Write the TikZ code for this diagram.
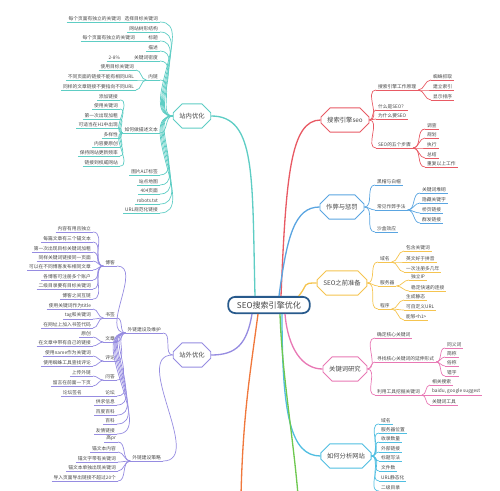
\documentclass[tikz,border=0pt]{standalone}
\usepackage{fontspec}
\setmainfont{Noto Sans CJK SC}
\usetikzlibrary{shapes.misc,calc}
\definecolor{rootc}{RGB}{40,90,140}
\definecolor{inc}{RGB}{94,205,196}
\definecolor{seoc}{RGB}{232,90,100}
\definecolor{cheatc}{RGB}{90,165,225}
\definecolor{prepc}{RGB}{245,196,80}
\definecolor{kwc}{RGB}{232,120,180}
\definecolor{anac}{RGB}{80,190,225}
\definecolor{outc}{RGB}{150,140,225}
\definecolor{orgc}{RGB}{240,120,60}
\definecolor{grnc}{RGB}{110,200,80}
\newcommand{\lffont}{\fontsize{2.7}{3.2}\selectfont}
\newcommand{\brfont}{\fontsize{3.6}{4.2}\selectfont}
\newcommand{\rtfont}{\fontsize{4.6}{5.4}\selectfont}

\begin{document}
\begin{tikzpicture}[x=0.02cm,y=-0.02cm,
  txt/.style={text=black!72},
  root/.style={draw=rootc,line width=1pt,fill=white,rounded corners=4pt,
               inner xsep=5pt,inner ysep=2.5pt,font=\rtfont,txt},
  br/.style={chamfered rectangle,chamfered rectangle xsep=1.5pt,draw=#1,fill=white,
             line width=.5pt,inner xsep=2pt,inner ysep=1.6pt,font=\brfont,txt},
  lf/.style={inner xsep=1pt,inner ysep=.6pt,font=\lffont,txt,
             append after command={(\tikzlastnode.south west) edge[draw=#1,line width=.4pt] (\tikzlastnode.south east)}},
  lr/.style={lf=#1,anchor=south west},
  ll/.style={lf=#1,anchor=south east},
  bline/.style={draw=#1,line width=.75pt},
  cline/.style={draw=#1,line width=.4pt},
]
\useasboundingbox (0,0) rectangle (500,490);

% centre
\node[root] (root) at (269,305) {SEO搜索引擎优化};
\coordinate (obot) at (241,495);
\coordinate (gbot) at (298,495);

% main nodes
\node[br=inc] (in) at (192,116) {站内优化};
\node[br=outc] (out) at (192,355) {站外优化};
\node[br=seoc] (seo) at (345,120) {搜索引擎seo};
\node[br=cheatc] (cheat) at (342,207) {作弊与惩罚};
\node[br=prepc] (prep) at (342,283) {SEO之前准备};
\node[br=kwc] (kw) at (345,369) {关键词研究};
\node[br=anac] (ana) at (346,456) {如何分析网站};

% main branches
\draw[bline=inc] ($(root.north)+(-14,0)$) .. controls +(-3,-120) and +(45,0) .. (in.east);
\draw[bline=seoc] ($(root.north)+(12,0)$) .. controls +(5,-120) and +(-30,0) .. (seo.west);
\draw[bline=cheatc] ($(root.north)+(10,0)$) .. controls +(8,-60) and +(-25,0) .. (cheat.west);
\draw[bline=prepc] ($(root.north east)+(-12,0)$) .. controls +(10,-12) and +(-15,0) .. (prep.west);
\draw[bline=kwc] ($(root.south)+(16,0)$) .. controls +(3,35) and +(-20,0) .. (kw.west);
\draw[bline=anac] ($(root.south)+(13,0)$) .. controls +(0,100) and +(-30,0) .. (ana.west);
\draw[bline=grnc] ($(root.south)+(11,0)$) .. controls +(2,60) and +(-5,-60) .. (gbot);
\draw[bline=outc] ($(root.south)+(-17,0)$) .. controls +(-5,30) and +(25,0) .. (out.east);
\draw[bline=orgc] ($(root.south)+(-11,0)$) .. controls +(-8,60) and +(2,-80) .. (obot);

% 搜索引擎seo
\foreach \n/\y/\t in {s1/90/搜索引擎工作原理,s2/110/什么是SEO？,s3/119/为什么要SEO,s4/148/SEO的五个步骤}
  {\node[lr=seoc] (\n) at (376,\y) {\t};
   \draw[cline=seoc] (seo.east) to[out=0,in=180] (\n.south west);}
\foreach \n/\y/\t in {s11/80/蜘蛛抓取,s12/90/建立索引,s13/100/显示排序}
  {\node[lr=seoc] (\n) at (431,\y) {\t};
   \draw[cline=seoc] (s1.south east) to[out=0,in=180] (\n.south west);}
\foreach \n/\y/\t in {s41/129/调查,s42/138/规划,s43/148/执行,s44/158/总结,s45/167/重复以上工作}
  {\node[lr=seoc] (\n) at (425,\y) {\t};
   \draw[cline=seoc] (s4.south east) to[out=0,in=180] (\n.south west);}

% 作弊与惩罚
\foreach \n/\y/\t in {c1/185/黑帽与白帽,c2/210/常见作弊手法,c3/232/沙盒效应}
  {\node[lr=cheatc] (\n) at (375,\y) {\t};
   \draw[cline=cheatc] (cheat.east) to[out=0,in=180] (\n.south west);}
\foreach \n/\y/\t in {c21/193/关键词堆砌,c22/203/隐藏关键字,c23/213/桥页链接,c24/223/群发链接}
  {\node[lr=cheatc] (\n) at (420,\y) {\t};
   \draw[cline=cheatc] (c2.south east) to[out=0,in=180] (\n.south west);}

% SEO之前准备
\foreach \n/\y/\t in {p1/262/域名,p2/286/服务器,p3/309/程序}
  {\node[lr=prepc] (\n) at (378,\y) {\t};
   \draw[cline=prepc] (prep.east) to[out=0,in=180] (\n.south west);}
\foreach \n/\y/\t in {p11/251/包含关键词,p12/262/英文好于拼音,p13/272/一次注册多几年}
  {\node[lr=prepc] (\n) at (404,\y) {\t};
   \draw[cline=prepc] (p1.south east) to[out=0,in=180] (\n.south west);}
\foreach \n/\y/\t in {p21/280/独立IP,p22/291/稳定快速的连接}
  {\node[lr=prepc] (\n) at (409,\y) {\t};
   \draw[cline=prepc] (p2.south east) to[out=0,in=180] (\n.south west);}
\foreach \n/\y/\t in {p31/300/生成静态,p32/310/可自定义URL,p33/320/能够<h1>}
  {\node[lr=prepc] (\n) at (404,\y) {\t};
   \draw[cline=prepc] (p3.south east) to[out=0,in=180] (\n.south west);}

% 关键词研究
\foreach \n/\y/\t in {k1/338/确定核心关键词,k2/362/寻找核心关键词的延伸形式,k3/395/利用工具挖掘关键词}
  {\node[lr=kwc] (\n) at (375,\y) {\t};
   \draw[cline=kwc] (kw.east) to[out=0,in=180] (\n.south west);}
\foreach \n/\y/\t in {k21/348/同义词,k22/357/简称,k23/366/俗称,k24/376/错字}
  {\node[lr=kwc] (\n) at (445,\y) {\t};
   \draw[cline=kwc] (k2.south east) to[out=0,in=180] (\n.south west);}
\foreach \n/\y/\t in {k31/385/相关搜索,k32/395/{baidu, google suggest},k33/405/关键词工具}
  {\node[lr=kwc] (\n) at (430,\y) {\t};
   \draw[cline=kwc] (k3.south east) to[out=0,in=180] (\n.south west);}

% 如何分析网站
\foreach \n/\y/\t in {a1/424/域名,a2/433/服务器位置,a3/442/收录数量,a4/452/外部链接,a5/461/标题写法,a6/471/文件数,a7/481/URL静态化,a8/491/二级目录}
  {\node[lr=anac] (\n) at (379,\y) {\t};
   \draw[cline=anac] (ana.east) to[out=0,in=180] (\n.south west);}

% 站内优化
\foreach \n/\y/\t in {i1/22/选择目标关键词,i2/32/网站树形结构,i3/41/标题,i4/51/描述,i5/61/关键词密度,i6/80/内链,i7/133/如何做描述文本,i8/175/图片ALT标签,i9/185/站点地图,i10/194/404页面,i12/204/robots.txt,i13/213/URL规范化链接}
  {\node[ll=inc] (\n) at (160,\y) {\t};
   \draw[cline=inc] (in.west) to[out=180,in=0] (\n.south east);}
\node[ll=inc] (i11) at (123,22) {每个页面有独立的关键词};
\draw[cline=inc] (i1.south west) -- (i11.south east);
\node[ll=inc] (i31) at (137,41) {每个页面有独立的关键词};
\draw[cline=inc] (i3.south west) -- (i31.south east);
\node[ll=inc] (i51) at (122,61) {2-8\%};
\draw[cline=inc] (i5.south west) -- (i51.south east);
\foreach \n/\y/\t in {i61/70/使用目标关键词,i62/80/不同页面的链接不能有相同URL,i63/90/同样的文章链接不要指向不同URL}
  {\node[ll=inc] (\n) at (136,\y) {\t};
   \draw[cline=inc] (i6.south west) to[out=180,in=0] (\n.south east);}
\foreach \n/\y/\t in {i71/100/添加链接,i72/109/使用关键词,i73/119/第一次出现加粗,i74/128/可适当在H1中出现,i75/138/多样性,i76/147/内容要原创,i77/156/保持网站更新频率,i78/166/链接到权威网站}
  {\node[ll=inc] (\n) at (120,\y) {\t};
   \draw[cline=inc] (i7.south west) to[out=180,in=0] (\n.south east);}

% 站外优化
\foreach \n/\y/\t in {o1/333/外链建设及维护,o2/461/外链建设策略}
  {\node[ll=outc] (\n) at (163,\y) {\t};
   \draw[cline=outc] (out.west) to[out=180,in=0] (\n.south east);}
\foreach \n/\y/\t in {o11/266/博客,o12/318/书签,o13/342/文章,o14/361/评论,o15/380/问答,o16/396/论坛,o17/405/供求信息,o18/415/百度百科,o19/424/百科,o1a/434/友情链接}
  {\node[ll=outc] (\n) at (117,\y) {\t};
   \draw[cline=outc] (o1.south west) to[out=180,in=0] (\n.south east);}
\foreach \n/\y/\t in {o111/232/内容有用且独立,o112/242/每篇文章有三个锚文本,o113/252/第一次出现目标关键词加粗,o114/261/同样关键词链接同一页面,o115/270/可以在不同博客发布相同文章,o116/280/各博客可注册多个账户,o117/289/二级目录要有目标关键词,o118/299/博客之间互链}
  {\node[ll=outc] (\n) at (93,\y) {\t};
   \draw[cline=outc] (o11.south west) to[out=180,in=0] (\n.south east);}
\foreach \n/\y/\t in {o121/309/使用关键词作为title,o122/319/tag和关键词,o123/328/在网址上加入书签代码}
  {\node[ll=outc] (\n) at (93,\y) {\t};
   \draw[cline=outc] (o12.south west) to[out=180,in=0] (\n.south east);}
\foreach \n/\y/\t in {o131/337/原创,o132/346/在文章中带有自己的链接}
  {\node[ll=outc] (\n) at (93,\y) {\t};
   \draw[cline=outc] (o13.south west) to[out=180,in=0] (\n.south east);}
\foreach \n/\y/\t in {o141/356/使用name作为关键词,o142/366/使用蜘蛛工具查找评论}
  {\node[ll=outc] (\n) at (93,\y) {\t};
   \draw[cline=outc] (o14.south west) to[out=180,in=0] (\n.south east);}
\foreach \n/\y/\t in {o151/376/上传外链,o152/386/留言在前面一下页}
  {\node[ll=outc] (\n) at (93,\y) {\t};
   \draw[cline=outc] (o15.south west) to[out=180,in=0] (\n.south east);}
\node[ll=outc] (o161) at (84,396) {论坛签名};
\draw[cline=outc] (o16.south west) -- (o161.south east);
\foreach \n/\y/\t in {o21/442/高pr,o22/452/锚文本内容,o23/462/锚文字带有关键词,o24/471/锚文本单独出现关键词,o25/481/导入页面导出链接不超过20个}
  {\node[ll=outc] (\n) at (118,\y) {\t};
   \draw[cline=outc] (o2.south west) to[out=180,in=0] (\n.south east);}
\end{tikzpicture}
\end{document}
